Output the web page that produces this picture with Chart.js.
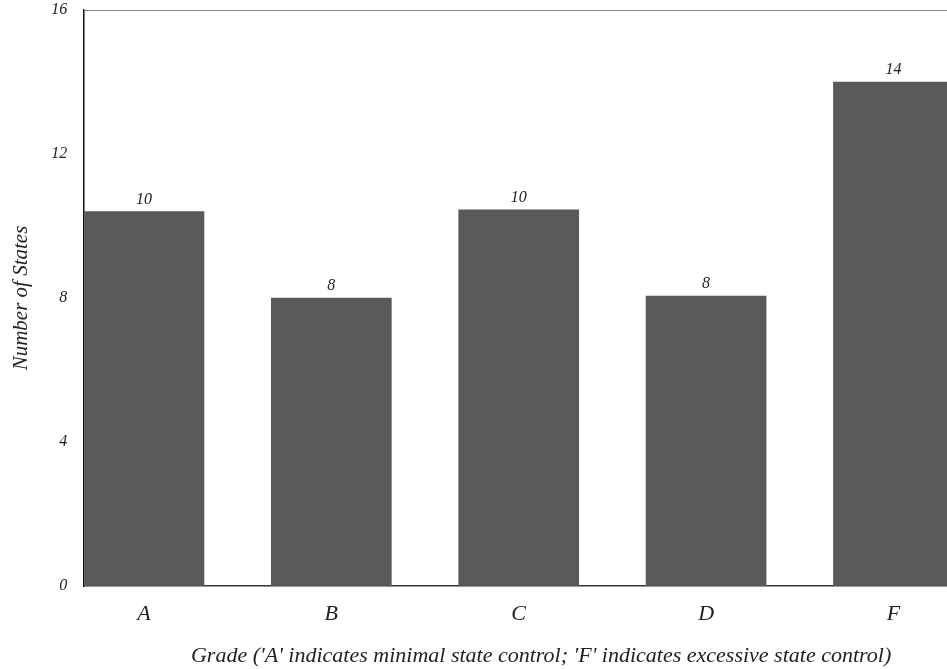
<!DOCTYPE html>
<html>
<head>
<meta charset="utf-8">
<script src="https://cdn.jsdelivr.net/npm/chart.js@4.4.0/dist/chart.umd.min.js"></script>
<style>
  html, body { margin: 0; padding: 0; background: #fff; overflow: hidden; }
  #clip { width: 947px; height: 669px; overflow: hidden; }
  #wrap { width: 998px; height: 669px; }
</style>
</head>
<body>
<div id="clip"><div id="wrap"><canvas id="gradeChart"></canvas></div></div>
<script>
// Grades and the number of states in each
const grades = ['A', 'B', 'C', 'D', 'F'];
const gradePos = [0, 1, 2, 3, 4];
const stateCounts = [10.4, 8.0, 10.45, 8.05, 14.0];
const yTicks = [0, 4, 8, 12, 16];

const serif = '"Liberation Serif", "DejaVu Serif", serif';

// Count above each bar, plus the thin top frame line
const barLabels = {
    id: 'barLabels',
    afterDatasetsDraw(chart) {
        const ctx = chart.ctx;
        const area = chart.chartArea;
        const meta = chart.getDatasetMeta(0);
        ctx.save();
        ctx.strokeStyle = '#888';
        ctx.lineWidth = 1;
        ctx.beginPath();
        ctx.moveTo(area.left, area.top + 0.5);
        ctx.lineTo(area.right, area.top + 0.5);
        ctx.stroke();

        ctx.font = 'italic 16px ' + serif;
        ctx.fillStyle = '#222';
        ctx.textAlign = 'center';
        ctx.textBaseline = 'bottom';
        meta.data.forEach((bar, i) => {
            ctx.fillText(String(Math.round(stateCounts[i])), bar.x, bar.y - 4);
        });
        ctx.restore();
    }
};

new Chart(document.getElementById('gradeChart'), {
    type: 'bar',
    data: {
        datasets: [{
            data: gradePos.map((x, i) => ({ x: x, y: stateCounts[i] })),
            backgroundColor: '#58595b',
            barThickness: 120
        }]
    },
    options: {
        responsive: true,
        maintainAspectRatio: false,
        animation: false,
        layout: { padding: { top: 10, left: 9, right: 0, bottom: 0 } },
        plugins: { legend: { display: false }, tooltip: { enabled: false } },
        scales: {
            x: {
                type: 'linear',
                offset: false,
                min: -0.319,
                max: 4.558,
                grid: { display: false, drawTicks: false },
                border: { color: '#333', width: 1.5 },
                ticks: {
                    stepSize: 1,
                    includeBounds: false,
                    autoSkip: false,
                    padding: 17,
                    color: '#222',
                    font: { family: serif, style: 'italic', size: 22, lineHeight: 1 },
                    callback: v => Number.isInteger(v) ? grades[v] : ''
                },
                title: {
                    display: true,
                    text: "Grade ('A' indicates minimal state control; 'F' indicates excessive state control)",
                    color: '#222',
                    font: { family: serif, style: 'italic', size: 22, lineHeight: 1 },
                    padding: { top: 3, bottom: 2 }
                }
            },
            y: {
                min: 0,
                max: 16,
                grid: { display: false, drawTicks: false },
                border: { color: '#111', width: 1.5 },
                afterBuildTicks: axis => { axis.ticks = yTicks.map(v => ({ value: v })); },
                afterFit: axis => { axis.paddingTop = 0; },
                ticks: {
                    padding: 17,
                    color: '#222',
                    font: { family: serif, style: 'italic', size: 16 }
                },
                title: {
                    display: true,
                    text: 'Number of States',
                    color: '#222',
                    font: { family: serif, style: 'italic', size: 21 },
                    padding: { top: 0, bottom: 0 }
                }
            }
        }
    },
    plugins: [barLabels]
});
</script>
</body>
</html>
